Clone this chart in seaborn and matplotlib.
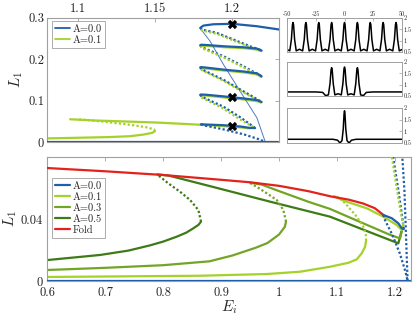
import matplotlib
matplotlib.use('Agg')
import matplotlib.pyplot as plt
import seaborn as sns
from matplotlib.lines import Line2D

# ---- A=0.0 : flat state and the snake (E_i, L_1) ----
a0_flat = [(0.6, 0.0), (1.23, 0.0)]
a0_lvl1 = [(1.2308, 0.2711), (1.2162, 0.2791), (1.2003, 0.2849), (1.1880, 0.2839), (1.1815, 0.2807), (1.1794, 0.2752)]
a0_dia1 = [(1.1794, 0.2752), (1.1805, 0.2711), (1.1902, 0.2631), (1.2010, 0.2470), (1.2118, 0.2308), (1.2170, 0.2240), (1.2192, 0.2205)]
a0_lvl2 = [(1.2192, 0.2205), (1.2162, 0.2252), (1.2075, 0.2284), (1.1945, 0.2308), (1.1830, 0.2340), (1.1800, 0.2345), (1.1794, 0.2335)]
a0_dia2 = [(1.1794, 0.2335), (1.1805, 0.2284), (1.1945, 0.2067), (1.2075, 0.1825), (1.2160, 0.1650), (1.2192, 0.1584)]
a0_lvl3 = [(1.2192, 0.1584), (1.2162, 0.1655), (1.2075, 0.1700), (1.1945, 0.1745), (1.1830, 0.1795), (1.1800, 0.1805), (1.1794, 0.1800)]
a0_dia3 = [(1.1794, 0.1800), (1.1805, 0.1750), (1.1945, 0.1500), (1.2075, 0.1220), (1.2160, 0.1040), (1.2192, 0.0965)]
a0_lvl4 = [(1.2192, 0.0965), (1.2162, 0.1010), (1.2075, 0.1050), (1.2003, 0.1077), (1.1945, 0.1100), (1.1830, 0.1140), (1.1800, 0.1145), (1.1794, 0.1140)]
a0_dia4 = [(1.1794, 0.1140), (1.1805, 0.1090), (1.1945, 0.0850), (1.2060, 0.0580), (1.2120, 0.0420), (1.2150, 0.0335)]
a0_lvl5 = [(1.2150, 0.0335), (1.2115, 0.0340), (1.2057, 0.0372), (1.1943, 0.0405), (1.1798, 0.0426)]
a0_dia5 = [(1.1798, 0.0426), (1.1830, 0.0390), (1.1950, 0.0300), (1.2080, 0.0180), (1.2180, 0.0060), (1.2216, 0.0)]
a0_thin = [(1.1796, 0.2730), (1.1858, 0.2430), (1.1945, 0.1866), (1.2053, 0.1222), (1.2125, 0.0800), (1.2162, 0.0580), (1.2216, 0.0)]

# ---- A=0.1 ----
a1_low = [(0.6, 0.0026), (0.7, 0.0029), (0.8638, 0.0034), (0.9788, 0.0045), (1.0362, 0.0060), (1.0879, 0.0092),
          (1.1200, 0.0118), (1.1340, 0.0140), (1.1426, 0.0179), (1.1483, 0.0221), (1.1500, 0.0260)]
a1_mid = [(1.1500, 0.0260), (1.1495, 0.0300), (1.1453, 0.0350), (1.1340, 0.0415), (1.1167, 0.0490), (1.1052, 0.0534), (1.0995, 0.0544)]
a1_up = [(1.0950, 0.0548), (1.1100, 0.0520), (1.1512, 0.0469), (1.1798, 0.0415), (1.2029, 0.0361), (1.2115, 0.0329), (1.2140, 0.0360)]
a1_dia4 = [(1.2140, 0.0360), (1.2100, 0.0440), (1.2045, 0.0560), (1.1935, 0.0825), (1.1805, 0.1065), (1.1796, 0.1115)]
a1_lvl4 = [(1.1796, 0.1115), (1.1830, 0.1118), (1.1945, 0.1075), (1.2075, 0.1025), (1.2162, 0.0985), (1.2190, 0.0950)]
a1_dia3 = [(1.2190, 0.0950), (1.2158, 0.1020), (1.2073, 0.1200), (1.1943, 0.1480), (1.1805, 0.1730), (1.1796, 0.1778)]
a1_lvl3 = [(1.1796, 0.1778), (1.1830, 0.1772), (1.1945, 0.1722), (1.2075, 0.1678), (1.2162, 0.1632), (1.2190, 0.1568)]
a1_dia2 = [(1.2190, 0.1568), (1.2158, 0.1630), (1.2073, 0.1803), (1.1943, 0.2045), (1.1805, 0.2262), (1.1796, 0.2312)]
a1_lvl2 = [(1.1796, 0.2312), (1.1830, 0.2318), (1.1945, 0.2286), (1.2075, 0.2262), (1.2162, 0.2230), (1.2190, 0.2190)]
a1_dia1 = [(1.2190, 0.2190), (1.2168, 0.2222), (1.2116, 0.2288), (1.2008, 0.2450), (1.1900, 0.2610), (1.1805, 0.2690), (1.1796, 0.2730)]

# ---- A=0.3 ----
a3_low = [(0.6, 0.0071), (0.7, 0.0085), (0.8, 0.0102), (0.88, 0.0127), (0.92, 0.0165), (0.96, 0.0215),
          (0.98, 0.0245), (1.0, 0.0300), (1.010, 0.0350), (1.012, 0.0383)]
a3_mid = [(1.012, 0.0383), (1.0074, 0.0458), (0.9959, 0.0523), (0.9788, 0.0566), (0.9615, 0.0608), (0.95, 0.0632)]
a3_up = [(0.95, 0.0634), (0.97, 0.0622), (1.0, 0.0580), (1.05, 0.0512), (1.0879, 0.0465), (1.1453, 0.0372),
         (1.19, 0.0300), (1.2086, 0.0275), (1.2125, 0.0335)]

# ---- A=0.5 ----
a5_low = [(0.6, 0.0135), (0.6914, 0.0168), (0.74, 0.0196), (0.7776, 0.0230), (0.80, 0.0254), (0.8236, 0.0286),
          (0.8400, 0.0312), (0.8522, 0.0340), (0.8610, 0.0362), (0.8655, 0.0383)]
a5_mid = [(0.8655, 0.0383), (0.8609, 0.0458), (0.8466, 0.0523), (0.8293, 0.0576), (0.8091, 0.0630), (0.7948, 0.0673), (0.79, 0.0685)]
a5_up = [(0.79, 0.0688), (0.81, 0.0680), (0.881, 0.0612), (0.9845, 0.0512), (1.0879, 0.0415), (1.2057, 0.0243), (1.2110, 0.0320)]

# ---- fold curve ----
fold = [(0.6, 0.0729), (0.7, 0.0708), (0.8, 0.0684), (0.9, 0.0653), (0.95, 0.0637), (1.0, 0.0614), (1.05, 0.0580),
        (1.09, 0.0545), (1.12, 0.0525), (1.145, 0.0500), (1.165, 0.0470), (1.18, 0.0426)]

# marked solutions
mark_E = [1.2, 1.2, 1.2]
mark_L = [0.285, 0.1077, 0.0385]

# ---- profiles for the three insets ----
x1 = [-50, -47.6, -46.2, -45.3, -44.8, -44.3, -43.4, -42.0, -39.2,
      -36.4, -35.0, -34.1, -33.6, -33.1, -32.2, -30.8, -28.0,
      -25.2, -23.8, -22.9, -22.4, -21.9, -21.0, -19.6, -16.8,
      -14.0, -12.6, -11.7, -11.2, -10.7, -9.8, -8.4, -5.6,
      -2.8, -1.4, -0.5, 0, 0.5, 1.4, 2.8, 5.6,
      8.4, 9.8, 10.7, 11.2, 11.7, 12.6, 14.0, 16.8,
      19.6, 21.0, 21.9, 22.4, 22.9, 23.8, 25.2, 28.0,
      30.8, 32.2, 33.1, 33.6, 34.1, 35.0, 36.4, 39.2,
      42.0, 43.4, 44.3, 44.8, 45.3, 46.2, 47.6, 50]
y1 = [0.61, 0.55, 1.05, 1.7, 1.8, 1.7, 1.05, 0.55, 0.62,
      0.55, 1.05, 1.7, 1.8, 1.7, 1.05, 0.55, 0.62,
      0.55, 1.05, 1.7, 1.8, 1.7, 1.05, 0.55, 0.62,
      0.55, 1.05, 1.7, 1.8, 1.7, 1.05, 0.55, 0.62,
      0.55, 1.05, 1.7, 1.8, 1.7, 1.05, 0.55, 0.62,
      0.55, 1.05, 1.7, 1.8, 1.7, 1.05, 0.55, 0.62,
      0.55, 1.05, 1.7, 1.8, 1.7, 1.05, 0.55, 0.62,
      0.55, 1.05, 1.7, 1.8, 1.7, 1.05, 0.55, 0.62,
      0.55, 1.05, 1.7, 1.8, 1.7, 1.05, 0.55, 0.61]
x2 = [-50, -25, -19, -16.5, -14.0, -12.6, -11.7, -11.2, -10.7, -9.8, -8.4, -5.6,
      -2.8, -1.4, -0.5, 0, 0.5, 1.4, 2.8, 5.6,
      8.4, 9.8, 10.7, 11.2, 11.7, 12.6, 14.0, 16.5, 19, 25, 50]
y2 = [0.68, 0.68, 0.66, 0.52, 0.55, 1.05, 1.65, 1.75, 1.65, 1.05, 0.55, 0.6,
      0.55, 1.05, 1.68, 1.78, 1.68, 1.05, 0.55, 0.6,
      0.55, 1.05, 1.65, 1.75, 1.65, 1.05, 0.55, 0.52, 0.66, 0.68, 0.68]
x3 = [-50, -10, -6, -4, -2.2, -1.1, -0.4, 0, 0.4, 1.1, 2.2, 4, 6, 10, 50]
y3 = [0.66, 0.66, 0.62, 0.5, 0.6, 1.1, 1.75, 1.88, 1.75, 1.1, 0.6, 0.5, 0.62, 0.66, 0.66]

c_a0 = '#1f5ea8'
c_a1 = '#a4d22a'
c_a3 = '#72a526'
c_a5 = '#3e7a16'
c_fold = '#e3221c'
grey = '#a0a0a0'

sns.set_theme(style='white')
plt.rcParams['font.family'] = ['cmr10', 'DejaVu Serif']
plt.rcParams['mathtext.fontset'] = 'cm'
plt.rcParams['axes.unicode_minus'] = False
plt.rcParams['axes.formatter.use_mathtext'] = True

DOT = (0, (1, 1))


def curve(ax, pts, color, dotted=False, lw=1.6, z=2, alpha=1.0):
    E, L = zip(*pts)
    sns.lineplot(x=list(E), y=list(L), sort=False, estimator=None, ax=ax, color=color,
                 lw=lw, linestyle=DOT if dotted else '-', zorder=z, alpha=alpha)


def draw_a0(ax, top):
    curve(ax, a0_flat, c_a0, z=4)
    for seg in [a0_lvl1, a0_lvl2, a0_lvl3, a0_lvl4, a0_lvl5]:
        curve(ax, seg, c_a0, z=4)
    for seg in [a0_dia1, a0_dia2, a0_dia3, a0_dia4, a0_dia5]:
        curve(ax, seg, c_a0, dotted=True, z=3)
    if top:
        # unstable branch shows as a fine line at this scale
        curve(ax, a0_thin, c_a0, lw=0.7, z=3, alpha=0.8)
    else:
        curve(ax, a0_thin, c_a0, dotted=True, z=3)


def draw_a1(ax):
    curve(ax, a1_low, c_a1)
    curve(ax, a1_mid, c_a1, dotted=True)
    curve(ax, a1_up, c_a1)
    for seg in [a1_lvl4, a1_lvl3, a1_lvl2]:
        curve(ax, seg, c_a1)
    for seg in [a1_dia4, a1_dia3, a1_dia2, a1_dia1]:
        curve(ax, seg, c_a1, dotted=True, z=3.5)


def style_axes(ax):
    for s in ax.spines.values():
        s.set_color(grey)
        s.set_linewidth(0.8)
    ax.tick_params(direction='in', length=3, width=0.6, color=grey, labelsize=9,
                   labelcolor='#222222', top=True, right=True, pad=2)


fig = plt.figure(figsize=(4.15, 3.19), dpi=100)

# ---------------- top panel ----------------
ax1 = fig.add_axes([0.1133, 0.5549, 0.5590, 0.3900])
draw_a1(ax1)
draw_a0(ax1, top=True)
sns.scatterplot(x=mark_E, y=mark_L, marker='X', color='black', s=45, linewidth=0, ax=ax1, zorder=6)
ax1.set_xlim(1.08, 1.2305)
ax1.set_ylim(0, 0.3)
ax1.set_xticks([1.1, 1.15, 1.2])
ax1.set_xticklabels(['1.1', '1.15', '1.2'])
ax1.set_yticks([0, 0.1, 0.2, 0.3])
ax1.set_yticklabels(['0', '0.1', '0.2', '0.3'])
style_axes(ax1)
ax1.tick_params(labelbottom=False, labeltop=True)
ax1.set_xlabel('')
ax1.set_ylabel('$L_1$', fontsize=11, labelpad=2)
leg1 = ax1.legend(handles=[Line2D([], [], color=c_a0, lw=1.3), Line2D([], [], color=c_a1, lw=1.3)],
                  labels=['A=0.0', 'A=0.1'], loc='upper left', bbox_to_anchor=(0.02, 0.97),
                  borderaxespad=0, fontsize=7.5, handlelength=1.5, handletextpad=0.2,
                  labelspacing=0.15, borderpad=0.3, fancybox=False, framealpha=1)
leg1.get_frame().set_edgecolor(grey)
leg1.get_frame().set_linewidth(0.6)

# ---------------- insets ----------------
inset_pos = [[0.6916, 0.837, 0.2771, 0.1066],
             [0.6916, 0.699, 0.2771, 0.1066],
             [0.6916, 0.5517, 0.2771, 0.1097]]
profiles = [(x1, y1), (x2, y2), (x3, y3)]
for i, (pos, (px, py)) in enumerate(zip(inset_pos, profiles)):
    ax = fig.add_axes(pos)
    sns.lineplot(x=px, y=py, sort=False, estimator=None, ax=ax, color='black', lw=1.1)
    ax.set_xlim(-50, 50)
    ax.set_ylim(0.5, 2)
    for s in ax.spines.values():
        s.set_color(grey)
        s.set_linewidth(0.7)
    ax.set_yticks([0.5, 1, 1.5, 2])
    ax.set_yticklabels(['0.5', '1', '1.5', '2'])
    ax.yaxis.tick_right()
    ax.tick_params(axis='y', direction='in', length=2, width=0.5, color=grey, labelsize=4.5, pad=1)
    if i == 0:
        ax.set_xticks([-50, -25, 0, 25, 50])
        ax.set_xticklabels(['-50', '-25', '0', '25', '50'])
        ax.xaxis.tick_top()
        ax.tick_params(axis='x', direction='in', length=2, width=0.5, color=grey, labelsize=4.5, pad=1)
    else:
        ax.set_xticks([])
    ax.set_xlabel('')
    ax.set_ylabel('')

# ---------------- bottom panel ----------------
ax2 = fig.add_axes([0.1133, 0.1191, 0.8764, 0.3887])
curve(ax2, a5_low, c_a5)
curve(ax2, a5_mid, c_a5, dotted=True)
curve(ax2, a5_up, c_a5)
curve(ax2, a3_low, c_a3)
curve(ax2, a3_mid, c_a3, dotted=True)
curve(ax2, a3_up, c_a3)
draw_a1(ax2)
curve(ax2, fold, c_fold, z=3)
draw_a0(ax2, top=False)
ax2.set_xlim(0.6, 1.227)
ax2.set_ylim(0, 0.08)
ax2.set_xticks([0.6, 0.7, 0.8, 0.9, 1.0, 1.1, 1.2])
ax2.set_xticklabels(['0.6', '0.7', '0.8', '0.9', '1', '1.1', '1.2'])
ax2.set_yticks([0, 0.04])
ax2.set_yticklabels(['0', '0.04'])
style_axes(ax2)
ax2.tick_params(axis='x', pad=4)
ax2.tick_params(axis='y', pad=3)
ax2.set_xlabel('$E_i$', fontsize=11, labelpad=0)
ax2.set_ylabel('$L_1$', fontsize=11, labelpad=1)
leg2 = ax2.legend(handles=[Line2D([], [], color=c, lw=1.6) for c in [c_a0, c_a1, c_a3, c_a5, c_fold]],
                  labels=['A=0.0', 'A=0.1', 'A=0.3', 'A=0.5', 'Fold'], loc='upper left',
                  bbox_to_anchor=(0.013, 0.83), borderaxespad=0, fontsize=7.5, handlelength=1.5,
                  handletextpad=0.2, labelspacing=0.15, borderpad=0.3, fancybox=False, framealpha=1)
leg2.get_frame().set_edgecolor(grey)
leg2.get_frame().set_linewidth(0.6)

fig.savefig('out.png', dpi=100)
